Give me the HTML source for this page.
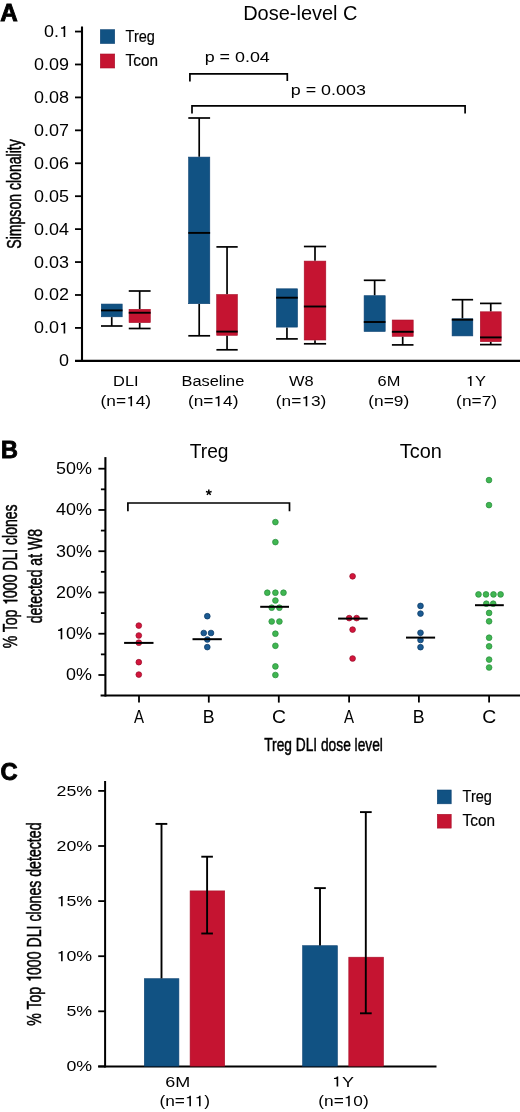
<!DOCTYPE html>
<html><head><meta charset="utf-8"><style>
html,body{margin:0;padding:0;background:#fff;}
svg{display:block;will-change:transform;}
text{font-family:"Liberation Sans", sans-serif;}
</style></head><body>
<svg width="520" height="1112" viewBox="0 0 520 1112">
<rect width="520" height="1112" fill="#fff"/>
<text transform="translate(0.25,20.55) scale(1.0050,1)" font-size="24.06" font-weight="bold" fill="#000" stroke="#000" stroke-width="0.9">A</text>
<text transform="translate(243.20,19.80) scale(0.9850,1)" font-size="20.30" fill="#000">Dose-level C</text>
<line x1="82.00" y1="26.50" x2="82.00" y2="361.90" stroke="#000" stroke-width="2.1"/>
<line x1="75.00" y1="360.85" x2="520.00" y2="360.85" stroke="#000" stroke-width="2.1"/>
<line x1="75.00" y1="327.92" x2="82.00" y2="327.92" stroke="#000" stroke-width="1.8"/>
<text transform="translate(34.08,333.39) scale(1.1383,1)" font-size="15.77" fill="#000">0.0 </text>
<path transform="translate(59.04,333.39) scale(17.957,15.775)" d="M0.255,0 L0.345,0 L0.345,-0.703 L0.272,-0.703 C0.262,-0.655 0.225,-0.606 0.11,-0.596 L0.11,-0.527 L0.255,-0.527 Z" fill="#000"/>
<line x1="75.00" y1="294.99" x2="82.00" y2="294.99" stroke="#000" stroke-width="1.8"/>
<text transform="translate(34.08,300.43) scale(1.1383,1)" font-size="15.77" fill="#000">0.02</text>
<line x1="75.00" y1="262.06" x2="82.00" y2="262.06" stroke="#000" stroke-width="1.8"/>
<text transform="translate(34.08,267.50) scale(1.1383,1)" font-size="15.77" fill="#000">0.03</text>
<line x1="75.00" y1="229.13" x2="82.00" y2="229.13" stroke="#000" stroke-width="1.8"/>
<text transform="translate(34.08,234.57) scale(1.1383,1)" font-size="15.77" fill="#000">0.04</text>
<line x1="75.00" y1="196.20" x2="82.00" y2="196.20" stroke="#000" stroke-width="1.8"/>
<text transform="translate(34.08,201.64) scale(1.1383,1)" font-size="15.77" fill="#000">0.05</text>
<line x1="75.00" y1="163.27" x2="82.00" y2="163.27" stroke="#000" stroke-width="1.8"/>
<text transform="translate(34.08,168.71) scale(1.1383,1)" font-size="15.77" fill="#000">0.06</text>
<line x1="75.00" y1="130.34" x2="82.00" y2="130.34" stroke="#000" stroke-width="1.8"/>
<text transform="translate(34.08,135.78) scale(1.1383,1)" font-size="15.77" fill="#000">0.07</text>
<line x1="75.00" y1="97.41" x2="82.00" y2="97.41" stroke="#000" stroke-width="1.8"/>
<text transform="translate(34.08,102.85) scale(1.1383,1)" font-size="15.77" fill="#000">0.08</text>
<line x1="75.00" y1="64.48" x2="82.00" y2="64.48" stroke="#000" stroke-width="1.8"/>
<text transform="translate(34.08,69.92) scale(1.1383,1)" font-size="15.77" fill="#000">0.09</text>
<line x1="75.00" y1="31.55" x2="82.00" y2="31.55" stroke="#000" stroke-width="1.8"/>
<text transform="translate(44.07,37.02) scale(1.1383,1)" font-size="15.77" fill="#000">0. </text>
<path transform="translate(59.04,37.02) scale(17.957,15.775)" d="M0.255,0 L0.345,0 L0.345,-0.703 L0.272,-0.703 C0.262,-0.655 0.225,-0.606 0.11,-0.596 L0.11,-0.527 L0.255,-0.527 Z" fill="#000"/>
<text transform="translate(59.04,366.29) scale(1.1383,1)" font-size="15.77" fill="#000">0</text>
<text transform="translate(21.05,248.68) rotate(-90) scale(0.7291,1)" font-size="19.31" fill="#000" stroke="#000" stroke-width="0.5">Simpson clonality</text>
<rect x="100.30" y="29.70" width="14.40" height="13.80" fill="#115283" stroke="#0c4373" stroke-width="0.6"/>
<rect x="100.30" y="54.00" width="14.40" height="14.00" fill="#c51431" stroke="#a80f29" stroke-width="0.6"/>
<text transform="translate(125.61,42.00) scale(0.8790,1)" font-size="16.52" fill="#000" stroke="#000" stroke-width="0.2">Treg</text>
<text transform="translate(125.59,66.40) scale(0.9296,1)" font-size="16.52" fill="#000" stroke="#000" stroke-width="0.2">Tcon</text>
<polyline points="189.90,81.50 189.90,73.90 287.30,73.90 287.30,81.00" fill="none" stroke="#000" stroke-width="1.7" stroke-linejoin="miter" stroke-linecap="butt"/>
<polyline points="192.00,113.60 192.00,105.80 465.10,105.80 465.10,113.50" fill="none" stroke="#000" stroke-width="1.7" stroke-linejoin="miter" stroke-linecap="butt"/>
<text transform="translate(204.64,62.00) scale(1.1733,1)" font-size="15.27" fill="#000">p = 0.04</text>
<text transform="translate(290.74,95.20) scale(1.1733,1)" font-size="15.27" fill="#000">p = 0.003</text>
<line x1="111.75" y1="317.10" x2="111.75" y2="326.00" stroke="#000" stroke-width="1.7"/>
<line x1="101.00" y1="326.00" x2="122.50" y2="326.00" stroke="#000" stroke-width="1.7"/>
<rect x="101.30" y="304.05" width="20.90" height="12.75" fill="#115283" stroke="#0c4373" stroke-width="0.6"/>
<line x1="101.00" y1="310.40" x2="122.50" y2="310.40" stroke="#000" stroke-width="1.9"/>
<line x1="139.68" y1="291.00" x2="139.68" y2="309.00" stroke="#000" stroke-width="1.7"/>
<line x1="128.75" y1="291.00" x2="150.60" y2="291.00" stroke="#000" stroke-width="1.7"/>
<line x1="139.68" y1="322.90" x2="139.68" y2="328.50" stroke="#000" stroke-width="1.7"/>
<line x1="128.75" y1="328.50" x2="150.60" y2="328.50" stroke="#000" stroke-width="1.7"/>
<rect x="129.05" y="309.30" width="21.25" height="13.30" fill="#c51431" stroke="#a80f29" stroke-width="0.6"/>
<line x1="128.75" y1="312.75" x2="150.60" y2="312.75" stroke="#000" stroke-width="1.9"/>
<line x1="199.20" y1="118.00" x2="199.20" y2="156.80" stroke="#000" stroke-width="1.7"/>
<line x1="188.30" y1="118.00" x2="210.10" y2="118.00" stroke="#000" stroke-width="1.7"/>
<line x1="199.20" y1="304.00" x2="199.20" y2="335.80" stroke="#000" stroke-width="1.7"/>
<line x1="188.30" y1="335.80" x2="210.10" y2="335.80" stroke="#000" stroke-width="1.7"/>
<rect x="188.60" y="157.10" width="21.20" height="146.60" fill="#115283" stroke="#0c4373" stroke-width="0.6"/>
<line x1="188.30" y1="232.90" x2="210.10" y2="232.90" stroke="#000" stroke-width="1.9"/>
<line x1="227.05" y1="246.90" x2="227.05" y2="294.20" stroke="#000" stroke-width="1.7"/>
<line x1="216.40" y1="246.90" x2="237.70" y2="246.90" stroke="#000" stroke-width="1.7"/>
<line x1="227.05" y1="335.60" x2="227.05" y2="349.80" stroke="#000" stroke-width="1.7"/>
<line x1="216.40" y1="349.80" x2="237.70" y2="349.80" stroke="#000" stroke-width="1.7"/>
<rect x="216.70" y="294.50" width="20.70" height="40.80" fill="#c51431" stroke="#a80f29" stroke-width="0.6"/>
<line x1="216.40" y1="331.60" x2="237.70" y2="331.60" stroke="#000" stroke-width="1.9"/>
<line x1="286.95" y1="327.40" x2="286.95" y2="338.90" stroke="#000" stroke-width="1.7"/>
<line x1="276.10" y1="338.90" x2="297.80" y2="338.90" stroke="#000" stroke-width="1.7"/>
<rect x="276.40" y="288.80" width="21.10" height="38.30" fill="#115283" stroke="#0c4373" stroke-width="0.6"/>
<line x1="276.10" y1="297.70" x2="297.80" y2="297.70" stroke="#000" stroke-width="1.9"/>
<line x1="315.00" y1="246.50" x2="315.00" y2="260.80" stroke="#000" stroke-width="1.7"/>
<line x1="303.90" y1="246.50" x2="326.10" y2="246.50" stroke="#000" stroke-width="1.7"/>
<line x1="315.00" y1="340.30" x2="315.00" y2="343.80" stroke="#000" stroke-width="1.7"/>
<line x1="303.90" y1="343.80" x2="326.10" y2="343.80" stroke="#000" stroke-width="1.7"/>
<rect x="304.20" y="261.10" width="21.60" height="78.90" fill="#c51431" stroke="#a80f29" stroke-width="0.6"/>
<line x1="303.90" y1="306.50" x2="326.10" y2="306.50" stroke="#000" stroke-width="1.9"/>
<line x1="374.65" y1="280.30" x2="374.65" y2="295.40" stroke="#000" stroke-width="1.7"/>
<line x1="363.80" y1="280.30" x2="385.50" y2="280.30" stroke="#000" stroke-width="1.7"/>
<rect x="364.10" y="295.70" width="21.10" height="35.80" fill="#115283" stroke="#0c4373" stroke-width="0.6"/>
<line x1="363.80" y1="322.00" x2="385.50" y2="322.00" stroke="#000" stroke-width="1.9"/>
<line x1="402.70" y1="336.60" x2="402.70" y2="344.90" stroke="#000" stroke-width="1.7"/>
<line x1="391.90" y1="344.90" x2="413.50" y2="344.90" stroke="#000" stroke-width="1.7"/>
<rect x="392.20" y="320.00" width="21.00" height="16.30" fill="#c51431" stroke="#a80f29" stroke-width="0.6"/>
<line x1="391.90" y1="331.80" x2="413.50" y2="331.80" stroke="#000" stroke-width="1.9"/>
<line x1="462.45" y1="299.70" x2="462.45" y2="318.50" stroke="#000" stroke-width="1.7"/>
<line x1="451.80" y1="299.70" x2="473.10" y2="299.70" stroke="#000" stroke-width="1.7"/>
<rect x="452.10" y="318.80" width="20.70" height="17.10" fill="#115283" stroke="#0c4373" stroke-width="0.6"/>
<line x1="451.80" y1="319.70" x2="473.10" y2="319.70" stroke="#000" stroke-width="1.9"/>
<line x1="490.75" y1="303.40" x2="490.75" y2="311.50" stroke="#000" stroke-width="1.7"/>
<line x1="480.00" y1="303.40" x2="501.50" y2="303.40" stroke="#000" stroke-width="1.7"/>
<line x1="490.75" y1="342.00" x2="490.75" y2="344.60" stroke="#000" stroke-width="1.7"/>
<line x1="480.00" y1="344.60" x2="501.50" y2="344.60" stroke="#000" stroke-width="1.7"/>
<rect x="480.30" y="311.80" width="20.90" height="29.90" fill="#c51431" stroke="#a80f29" stroke-width="0.6"/>
<line x1="480.00" y1="337.40" x2="501.50" y2="337.40" stroke="#000" stroke-width="1.9"/>
<text transform="translate(113.12,386.10) scale(1.1382,1)" font-size="14.42" fill="#000">DLI</text>
<text transform="translate(100.51,406.32) scale(1.1843,1)" font-size="14.65" fill="#000">(n= 4)</text>
<path transform="translate(126.07,406.32) scale(17.352,14.652)" d="M0.255,0 L0.345,0 L0.345,-0.703 L0.272,-0.703 C0.262,-0.655 0.225,-0.606 0.11,-0.596 L0.11,-0.527 L0.255,-0.527 Z" fill="#000"/>
<text transform="translate(181.44,386.10) scale(1.1382,1)" font-size="14.42" fill="#000">Baseline</text>
<text transform="translate(187.91,406.32) scale(1.1843,1)" font-size="14.65" fill="#000">(n= 4)</text>
<path transform="translate(213.47,406.32) scale(17.352,14.652)" d="M0.255,0 L0.345,0 L0.345,-0.703 L0.272,-0.703 C0.262,-0.655 0.225,-0.606 0.11,-0.596 L0.11,-0.527 L0.255,-0.527 Z" fill="#000"/>
<text transform="translate(288.98,386.10) scale(1.1382,1)" font-size="14.42" fill="#000">W8</text>
<text transform="translate(275.71,406.32) scale(1.1843,1)" font-size="14.65" fill="#000">(n= 3)</text>
<path transform="translate(301.27,406.32) scale(17.352,14.652)" d="M0.255,0 L0.345,0 L0.345,-0.703 L0.272,-0.703 C0.262,-0.655 0.225,-0.606 0.11,-0.596 L0.11,-0.527 L0.255,-0.527 Z" fill="#000"/>
<text transform="translate(377.58,386.10) scale(1.1382,1)" font-size="14.42" fill="#000">6M</text>
<text transform="translate(368.22,406.32) scale(1.1843,1)" font-size="14.65" fill="#000">(n=9)</text>
<text transform="translate(465.85,386.10) scale(1.1382,1)" font-size="14.42" fill="#000"> Y</text>
<path transform="translate(465.85,386.10) scale(16.415,14.422)" d="M0.255,0 L0.345,0 L0.345,-0.703 L0.272,-0.703 C0.262,-0.655 0.225,-0.606 0.11,-0.596 L0.11,-0.527 L0.255,-0.527 Z" fill="#000"/>
<text transform="translate(456.12,406.32) scale(1.1843,1)" font-size="14.65" fill="#000">(n=7)</text>
<text transform="translate(0.93,458.35) scale(0.9628,1)" font-size="24.35" font-weight="bold" fill="#000" stroke="#000" stroke-width="0.9">B</text>
<text transform="translate(189.82,457.90) scale(0.9228,1)" font-size="20.78" fill="#000">Treg</text>
<text transform="translate(399.80,457.90) scale(0.9578,1)" font-size="20.78" fill="#000">Tcon</text>
<line x1="105.40" y1="457.10" x2="105.40" y2="696.60" stroke="#000" stroke-width="2.1"/>
<line x1="100.60" y1="695.55" x2="520.00" y2="695.55" stroke="#000" stroke-width="2.1"/>
<line x1="98.40" y1="675.00" x2="105.40" y2="675.00" stroke="#000" stroke-width="1.8"/>
<text transform="translate(66.06,680.44) scale(1.1394,1)" font-size="15.77" fill="#000">0%</text>
<line x1="100.90" y1="654.37" x2="105.40" y2="654.37" stroke="#000" stroke-width="1.8"/>
<line x1="98.40" y1="633.74" x2="105.40" y2="633.74" stroke="#000" stroke-width="1.8"/>
<text transform="translate(56.08,639.21) scale(1.1394,1)" font-size="15.77" fill="#000"> 0%</text>
<path transform="translate(56.08,639.21) scale(17.974,15.775)" d="M0.255,0 L0.345,0 L0.345,-0.703 L0.272,-0.703 C0.262,-0.655 0.225,-0.606 0.11,-0.596 L0.11,-0.527 L0.255,-0.527 Z" fill="#000"/>
<line x1="100.90" y1="613.11" x2="105.40" y2="613.11" stroke="#000" stroke-width="1.8"/>
<line x1="98.40" y1="592.48" x2="105.40" y2="592.48" stroke="#000" stroke-width="1.8"/>
<text transform="translate(56.08,597.92) scale(1.1394,1)" font-size="15.77" fill="#000">20%</text>
<line x1="100.90" y1="571.85" x2="105.40" y2="571.85" stroke="#000" stroke-width="1.8"/>
<line x1="98.40" y1="551.22" x2="105.40" y2="551.22" stroke="#000" stroke-width="1.8"/>
<text transform="translate(56.08,556.66) scale(1.1394,1)" font-size="15.77" fill="#000">30%</text>
<line x1="100.90" y1="530.59" x2="105.40" y2="530.59" stroke="#000" stroke-width="1.8"/>
<line x1="98.40" y1="509.96" x2="105.40" y2="509.96" stroke="#000" stroke-width="1.8"/>
<text transform="translate(56.08,515.40) scale(1.1394,1)" font-size="15.77" fill="#000">40%</text>
<line x1="100.90" y1="489.33" x2="105.40" y2="489.33" stroke="#000" stroke-width="1.8"/>
<line x1="98.40" y1="468.70" x2="105.40" y2="468.70" stroke="#000" stroke-width="1.8"/>
<text transform="translate(56.08,474.14) scale(1.1394,1)" font-size="15.77" fill="#000">50%</text>
<line x1="139.00" y1="695.55" x2="139.00" y2="702.60" stroke="#000" stroke-width="1.8"/>
<line x1="208.80" y1="695.55" x2="208.80" y2="702.60" stroke="#000" stroke-width="1.8"/>
<line x1="278.80" y1="695.55" x2="278.80" y2="702.60" stroke="#000" stroke-width="1.8"/>
<line x1="349.10" y1="695.55" x2="349.10" y2="702.60" stroke="#000" stroke-width="1.8"/>
<line x1="418.90" y1="695.55" x2="418.90" y2="702.60" stroke="#000" stroke-width="1.8"/>
<line x1="489.10" y1="695.55" x2="489.10" y2="702.60" stroke="#000" stroke-width="1.8"/>
<text transform="translate(134.00,722.60) scale(0.8436,1)" font-size="17.83" fill="#000">A</text>
<text transform="translate(202.73,722.60) scale(0.9881,1)" font-size="17.97" fill="#000">B</text>
<text transform="translate(272.08,722.72) scale(1.0661,1)" font-size="18.17" fill="#000">C</text>
<text transform="translate(344.10,722.60) scale(0.8436,1)" font-size="17.83" fill="#000">A</text>
<text transform="translate(412.83,722.60) scale(0.9881,1)" font-size="17.97" fill="#000">B</text>
<text transform="translate(482.28,722.72) scale(1.0661,1)" font-size="18.17" fill="#000">C</text>
<text transform="translate(264.17,751.45) scale(0.7149,1)" font-size="19.25" fill="#000" stroke="#000" stroke-width="0.5">Treg DLI dose level</text>
<text transform="translate(17.25,648.34) rotate(-90) scale(0.7116,1)" font-size="19.71" fill="#000" stroke="#000" stroke-width="0.5">% Top  000 DLI clones</text>
<path transform="translate(17.25,648.34) rotate(-90) translate(43.61,0) scale(14.026,19.710)" d="M0.255,0 L0.345,0 L0.345,-0.703 L0.272,-0.703 C0.262,-0.655 0.225,-0.606 0.11,-0.596 L0.11,-0.527 L0.255,-0.527 Z" fill="#000" stroke="#000" stroke-width="0.0356"/>
<text transform="translate(42.05,623.31) rotate(-90) scale(0.7116,1)" font-size="19.71" fill="#000" stroke="#000" stroke-width="0.5">detected at W8</text>
<polyline points="127.90,511.20 127.90,503.00 289.50,503.00 289.50,511.20" fill="none" stroke="#000" stroke-width="1.7" stroke-linejoin="miter" stroke-linecap="butt"/>
<line x1="208.80" y1="492.40" x2="208.80" y2="489.40" stroke="#000" stroke-width="1.5"/>
<line x1="208.80" y1="492.40" x2="211.65" y2="491.47" stroke="#000" stroke-width="1.5"/>
<line x1="208.80" y1="492.40" x2="210.56" y2="494.83" stroke="#000" stroke-width="1.5"/>
<line x1="208.80" y1="492.40" x2="207.04" y2="494.83" stroke="#000" stroke-width="1.5"/>
<line x1="208.80" y1="492.40" x2="205.95" y2="491.47" stroke="#000" stroke-width="1.5"/>
<circle cx="138.80" cy="625.60" r="2.85" fill="#d3153c" stroke="#9a0f2b" stroke-width="0.75"/>
<circle cx="138.80" cy="635.50" r="2.85" fill="#d3153c" stroke="#9a0f2b" stroke-width="0.75"/>
<circle cx="138.80" cy="642.70" r="2.85" fill="#d3153c" stroke="#9a0f2b" stroke-width="0.75"/>
<circle cx="138.80" cy="662.20" r="2.85" fill="#d3153c" stroke="#9a0f2b" stroke-width="0.75"/>
<circle cx="138.80" cy="674.60" r="2.85" fill="#d3153c" stroke="#9a0f2b" stroke-width="0.75"/>
<line x1="124.10" y1="642.90" x2="153.50" y2="642.90" stroke="#000" stroke-width="2.0"/>
<circle cx="207.30" cy="616.20" r="2.85" fill="#1b5a92" stroke="#0c3b66" stroke-width="0.75"/>
<circle cx="203.75" cy="633.00" r="2.85" fill="#1b5a92" stroke="#0c3b66" stroke-width="0.75"/>
<circle cx="211.00" cy="633.00" r="2.85" fill="#1b5a92" stroke="#0c3b66" stroke-width="0.75"/>
<circle cx="207.30" cy="639.50" r="2.85" fill="#1b5a92" stroke="#0c3b66" stroke-width="0.75"/>
<circle cx="207.30" cy="647.10" r="2.85" fill="#1b5a92" stroke="#0c3b66" stroke-width="0.75"/>
<line x1="192.50" y1="639.20" x2="221.80" y2="639.20" stroke="#000" stroke-width="2.0"/>
<circle cx="275.40" cy="522.10" r="2.85" fill="#40b651" stroke="#2a8f3f" stroke-width="0.75"/>
<circle cx="275.40" cy="542.10" r="2.85" fill="#40b651" stroke="#2a8f3f" stroke-width="0.75"/>
<circle cx="267.30" cy="592.70" r="2.85" fill="#40b651" stroke="#2a8f3f" stroke-width="0.75"/>
<circle cx="275.40" cy="592.70" r="2.85" fill="#40b651" stroke="#2a8f3f" stroke-width="0.75"/>
<circle cx="283.50" cy="592.70" r="2.85" fill="#40b651" stroke="#2a8f3f" stroke-width="0.75"/>
<circle cx="275.40" cy="600.50" r="2.85" fill="#40b651" stroke="#2a8f3f" stroke-width="0.75"/>
<circle cx="271.70" cy="607.70" r="2.85" fill="#40b651" stroke="#2a8f3f" stroke-width="0.75"/>
<circle cx="279.40" cy="607.70" r="2.85" fill="#40b651" stroke="#2a8f3f" stroke-width="0.75"/>
<circle cx="271.70" cy="621.50" r="2.85" fill="#40b651" stroke="#2a8f3f" stroke-width="0.75"/>
<circle cx="279.40" cy="621.50" r="2.85" fill="#40b651" stroke="#2a8f3f" stroke-width="0.75"/>
<circle cx="275.40" cy="633.70" r="2.85" fill="#40b651" stroke="#2a8f3f" stroke-width="0.75"/>
<circle cx="275.40" cy="645.80" r="2.85" fill="#40b651" stroke="#2a8f3f" stroke-width="0.75"/>
<circle cx="275.40" cy="666.40" r="2.85" fill="#40b651" stroke="#2a8f3f" stroke-width="0.75"/>
<circle cx="275.40" cy="675.00" r="2.85" fill="#40b651" stroke="#2a8f3f" stroke-width="0.75"/>
<line x1="260.20" y1="606.80" x2="289.00" y2="606.80" stroke="#000" stroke-width="2.0"/>
<circle cx="352.60" cy="576.30" r="2.85" fill="#d3153c" stroke="#9a0f2b" stroke-width="0.75"/>
<circle cx="349.20" cy="618.10" r="2.85" fill="#d3153c" stroke="#9a0f2b" stroke-width="0.75"/>
<circle cx="356.60" cy="618.10" r="2.85" fill="#d3153c" stroke="#9a0f2b" stroke-width="0.75"/>
<circle cx="352.60" cy="629.60" r="2.85" fill="#d3153c" stroke="#9a0f2b" stroke-width="0.75"/>
<circle cx="352.60" cy="658.50" r="2.85" fill="#d3153c" stroke="#9a0f2b" stroke-width="0.75"/>
<line x1="338.10" y1="618.60" x2="367.70" y2="618.60" stroke="#000" stroke-width="2.0"/>
<circle cx="420.50" cy="605.90" r="2.85" fill="#1b5a92" stroke="#0c3b66" stroke-width="0.75"/>
<circle cx="420.50" cy="613.60" r="2.85" fill="#1b5a92" stroke="#0c3b66" stroke-width="0.75"/>
<circle cx="420.50" cy="632.80" r="2.85" fill="#1b5a92" stroke="#0c3b66" stroke-width="0.75"/>
<circle cx="420.50" cy="640.00" r="2.85" fill="#1b5a92" stroke="#0c3b66" stroke-width="0.75"/>
<circle cx="420.50" cy="647.20" r="2.85" fill="#1b5a92" stroke="#0c3b66" stroke-width="0.75"/>
<line x1="406.00" y1="637.60" x2="435.10" y2="637.60" stroke="#000" stroke-width="2.0"/>
<circle cx="489.00" cy="480.10" r="2.85" fill="#40b651" stroke="#2a8f3f" stroke-width="0.75"/>
<circle cx="489.00" cy="505.10" r="2.85" fill="#40b651" stroke="#2a8f3f" stroke-width="0.75"/>
<circle cx="478.50" cy="594.40" r="2.85" fill="#40b651" stroke="#2a8f3f" stroke-width="0.75"/>
<circle cx="486.00" cy="594.40" r="2.85" fill="#40b651" stroke="#2a8f3f" stroke-width="0.75"/>
<circle cx="493.50" cy="594.40" r="2.85" fill="#40b651" stroke="#2a8f3f" stroke-width="0.75"/>
<circle cx="500.60" cy="594.40" r="2.85" fill="#40b651" stroke="#2a8f3f" stroke-width="0.75"/>
<circle cx="486.30" cy="603.70" r="2.85" fill="#40b651" stroke="#2a8f3f" stroke-width="0.75"/>
<circle cx="493.20" cy="603.70" r="2.85" fill="#40b651" stroke="#2a8f3f" stroke-width="0.75"/>
<circle cx="489.10" cy="612.90" r="2.85" fill="#40b651" stroke="#2a8f3f" stroke-width="0.75"/>
<circle cx="489.10" cy="621.30" r="2.85" fill="#40b651" stroke="#2a8f3f" stroke-width="0.75"/>
<circle cx="489.10" cy="637.70" r="2.85" fill="#40b651" stroke="#2a8f3f" stroke-width="0.75"/>
<circle cx="489.10" cy="646.30" r="2.85" fill="#40b651" stroke="#2a8f3f" stroke-width="0.75"/>
<circle cx="489.10" cy="659.60" r="2.85" fill="#40b651" stroke="#2a8f3f" stroke-width="0.75"/>
<circle cx="489.10" cy="667.50" r="2.85" fill="#40b651" stroke="#2a8f3f" stroke-width="0.75"/>
<line x1="475.00" y1="605.20" x2="503.80" y2="605.20" stroke="#000" stroke-width="2.0"/>
<text transform="translate(0.40,780.21) scale(0.9712,1)" font-size="24.37" font-weight="bold" fill="#000" stroke="#000" stroke-width="0.9">C</text>
<line x1="105.10" y1="781.00" x2="105.10" y2="1067.40" stroke="#000" stroke-width="2.0"/>
<line x1="98.20" y1="1066.40" x2="436.50" y2="1066.40" stroke="#000" stroke-width="2.0"/>
<line x1="98.20" y1="1066.40" x2="105.10" y2="1066.40" stroke="#000" stroke-width="1.8"/>
<text transform="translate(66.39,1071.40) scale(1.2275,1)" font-size="14.51" fill="#000">0%</text>
<line x1="98.20" y1="1011.30" x2="105.10" y2="1011.30" stroke="#000" stroke-width="1.8"/>
<text transform="translate(66.39,1016.27) scale(1.2275,1)" font-size="14.51" fill="#000">5%</text>
<line x1="98.20" y1="956.20" x2="105.10" y2="956.20" stroke="#000" stroke-width="1.8"/>
<text transform="translate(56.51,961.23) scale(1.2275,1)" font-size="14.51" fill="#000"> 0%</text>
<path transform="translate(56.51,961.23) scale(17.807,14.507)" d="M0.255,0 L0.345,0 L0.345,-0.703 L0.272,-0.703 C0.262,-0.655 0.225,-0.606 0.11,-0.596 L0.11,-0.527 L0.255,-0.527 Z" fill="#000"/>
<line x1="98.20" y1="901.10" x2="105.10" y2="901.10" stroke="#000" stroke-width="1.8"/>
<text transform="translate(56.51,906.13) scale(1.2275,1)" font-size="14.51" fill="#000"> 5%</text>
<path transform="translate(56.51,906.13) scale(17.807,14.507)" d="M0.255,0 L0.345,0 L0.345,-0.703 L0.272,-0.703 C0.262,-0.655 0.225,-0.606 0.11,-0.596 L0.11,-0.527 L0.255,-0.527 Z" fill="#000"/>
<line x1="98.20" y1="846.00" x2="105.10" y2="846.00" stroke="#000" stroke-width="1.8"/>
<text transform="translate(56.51,851.00) scale(1.2275,1)" font-size="14.51" fill="#000">20%</text>
<line x1="98.20" y1="790.90" x2="105.10" y2="790.90" stroke="#000" stroke-width="1.8"/>
<text transform="translate(56.51,795.90) scale(1.2275,1)" font-size="14.51" fill="#000">25%</text>
<rect x="144.30" y="978.70" width="34.60" height="87.40" fill="#115283" stroke="#0c4373" stroke-width="0.6"/>
<line x1="161.50" y1="823.80" x2="161.50" y2="978.40" stroke="#000" stroke-width="1.9"/>
<line x1="155.50" y1="823.90" x2="167.30" y2="823.90" stroke="#000" stroke-width="1.9"/>
<rect x="190.10" y="890.90" width="34.60" height="175.20" fill="#c51431" stroke="#a80f29" stroke-width="0.6"/>
<line x1="207.10" y1="856.70" x2="207.10" y2="933.50" stroke="#000" stroke-width="1.9"/>
<line x1="201.30" y1="856.70" x2="212.90" y2="856.70" stroke="#000" stroke-width="1.9"/>
<line x1="201.30" y1="933.50" x2="212.90" y2="933.50" stroke="#000" stroke-width="1.9"/>
<rect x="302.60" y="945.70" width="34.80" height="120.40" fill="#115283" stroke="#0c4373" stroke-width="0.6"/>
<line x1="320.00" y1="888.10" x2="320.00" y2="945.40" stroke="#000" stroke-width="1.9"/>
<line x1="314.20" y1="888.10" x2="325.80" y2="888.10" stroke="#000" stroke-width="1.9"/>
<rect x="348.80" y="957.20" width="34.70" height="108.90" fill="#c51431" stroke="#a80f29" stroke-width="0.6"/>
<line x1="365.80" y1="812.10" x2="365.80" y2="1013.30" stroke="#000" stroke-width="1.9"/>
<line x1="360.00" y1="812.10" x2="371.70" y2="812.10" stroke="#000" stroke-width="1.9"/>
<line x1="360.00" y1="1013.30" x2="371.70" y2="1013.30" stroke="#000" stroke-width="1.9"/>
<rect x="437.30" y="790.00" width="13.90" height="13.80" fill="#115283" stroke="#0c4373" stroke-width="0.6"/>
<rect x="437.30" y="814.30" width="13.90" height="13.80" fill="#c51431" stroke="#a80f29" stroke-width="0.6"/>
<text transform="translate(462.61,802.00) scale(0.8790,1)" font-size="16.52" fill="#000" stroke="#000" stroke-width="0.2">Treg</text>
<text transform="translate(462.59,826.40) scale(0.9296,1)" font-size="16.52" fill="#000" stroke="#000" stroke-width="0.2">Tcon</text>
<text transform="translate(165.30,1086.60) scale(1.2659,1)" font-size="14.23" fill="#000">6M</text>
<text transform="translate(332.00,1086.50) scale(1.2659,1)" font-size="14.23" fill="#000"> Y</text>
<path transform="translate(332.00,1086.50) scale(18.008,14.225)" d="M0.255,0 L0.345,0 L0.345,-0.703 L0.272,-0.703 C0.262,-0.655 0.225,-0.606 0.11,-0.596 L0.11,-0.527 L0.255,-0.527 Z" fill="#000"/>
<text transform="translate(159.46,1106.23) scale(1.1483,1)" font-size="15.08" fill="#000">(n=  )</text>
<path transform="translate(184.97,1106.23) scale(17.317,15.080)" d="M0.255,0 L0.345,0 L0.345,-0.703 L0.272,-0.703 C0.262,-0.655 0.225,-0.606 0.11,-0.596 L0.11,-0.527 L0.255,-0.527 Z" fill="#000"/>
<path transform="translate(194.60,1106.23) scale(17.317,15.080)" d="M0.255,0 L0.345,0 L0.345,-0.703 L0.272,-0.703 C0.262,-0.655 0.225,-0.606 0.11,-0.596 L0.11,-0.527 L0.255,-0.527 Z" fill="#000"/>
<text transform="translate(318.26,1106.23) scale(1.1483,1)" font-size="15.08" fill="#000">(n= 0)</text>
<path transform="translate(343.77,1106.23) scale(17.317,15.080)" d="M0.255,0 L0.345,0 L0.345,-0.703 L0.272,-0.703 C0.262,-0.655 0.225,-0.606 0.11,-0.596 L0.11,-0.527 L0.255,-0.527 Z" fill="#000"/>
<text transform="translate(41.15,1025.85) rotate(-90) scale(0.6926,1)" font-size="20.43" fill="#000" stroke="#000" stroke-width="0.5">% Top  000 DLI clones detected</text>
<path transform="translate(41.15,1025.85) rotate(-90) translate(44.00,0) scale(14.153,20.435)" d="M0.255,0 L0.345,0 L0.345,-0.703 L0.272,-0.703 C0.262,-0.655 0.225,-0.606 0.11,-0.596 L0.11,-0.527 L0.255,-0.527 Z" fill="#000" stroke="#000" stroke-width="0.0353"/>
</svg>
</body></html>
